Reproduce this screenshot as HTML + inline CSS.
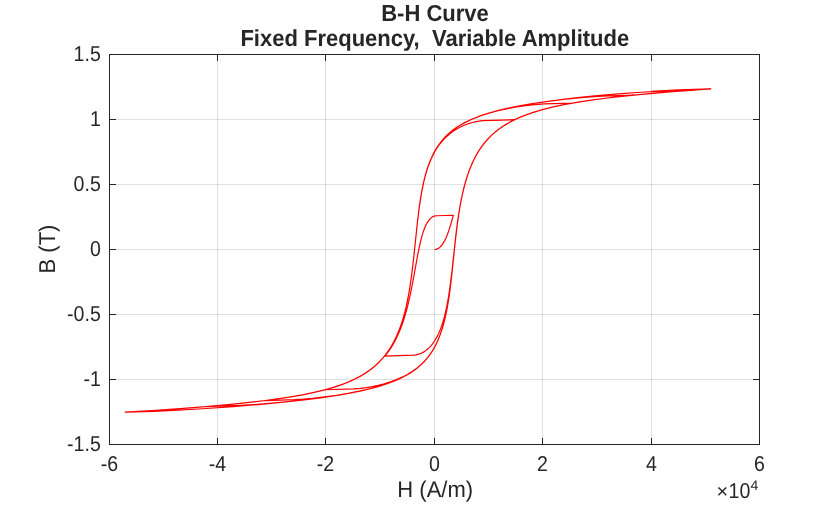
<!DOCTYPE html>
<html><head><meta charset="utf-8"><style>
html,body{margin:0;padding:0;background:#fff;width:840px;height:505px;overflow:hidden}
svg{display:block;will-change:transform}
text{font-family:"Liberation Sans",sans-serif;fill:#262626;text-rendering:geometricPrecision}
</style></head><body>
<svg width="840" height="505" viewBox="0 0 840 505">
<rect width="840" height="505" fill="#fff"/>
<g stroke="#262626" stroke-opacity="0.15" stroke-width="1" shape-rendering="crispEdges"><line x1="217.5" y1="54.5" x2="217.5" y2="444.5"/><line x1="325.5" y1="54.5" x2="325.5" y2="444.5"/><line x1="434.5" y1="54.5" x2="434.5" y2="444.5"/><line x1="542.5" y1="54.5" x2="542.5" y2="444.5"/><line x1="651.5" y1="54.5" x2="651.5" y2="444.5"/><line x1="109.5" y1="379.5" x2="759.5" y2="379.5"/><line x1="109.5" y1="314.5" x2="759.5" y2="314.5"/><line x1="109.5" y1="249.5" x2="759.5" y2="249.5"/><line x1="109.5" y1="184.5" x2="759.5" y2="184.5"/><line x1="109.5" y1="119.5" x2="759.5" y2="119.5"/></g>
<path d="M434.50,249.50 435.85,249.34 437.21,248.92 438.45,248.29 439.70,247.40 440.89,246.28 442.08,244.87 444.30,241.41 446.42,236.99 448.53,231.42 450.70,224.58 453.30,215.26 436.40,215.77 435.10,215.94 433.85,216.31 432.71,216.84 431.57,217.57 429.46,219.56 427.46,222.33 425.62,225.80 424.15,229.31 422.75,233.41 421.39,238.11 420.09,243.36 417.71,254.83 412.83,281.85 410.40,294.23 407.47,306.89 404.38,317.84 402.43,323.72 400.38,329.21 398.21,334.33 395.88,339.21 393.39,343.83 390.79,348.10 387.97,352.21 384.99,356.06 413.27,355.20 416.08,354.86 418.85,354.17 421.18,353.28 423.40,352.15 425.56,350.75 427.68,349.08 429.68,347.18 431.57,345.06 433.42,342.66 435.15,340.04 436.94,336.92 438.67,333.40 440.24,329.73 441.76,325.63 443.17,321.26 444.52,316.42 446.90,305.94 448.75,295.56 450.48,283.41 452.00,270.71 456.11,232.94 457.63,221.13 459.15,211.02 461.15,199.87 463.37,189.77 465.86,180.50 468.62,172.07 470.41,167.39 472.36,162.84 474.37,158.67 476.53,154.63 478.81,150.84 481.25,147.19 483.85,143.71 486.55,140.46 489.43,137.37 492.46,134.43 495.65,131.66 499.07,128.99 502.64,126.48 506.43,124.09 510.44,121.82 514.67,119.67 482.76,120.71 479.35,121.10 475.94,121.69 472.58,122.46 469.22,123.43 464.94,124.98 460.82,126.81 456.87,128.93 453.08,131.35 449.50,134.04 446.20,136.94 443.11,140.10 440.24,143.51 437.53,147.25 435.04,151.26 432.71,155.61 430.60,160.21 428.65,165.16 426.81,170.61 425.13,176.43 423.61,182.58 421.23,194.55 419.06,208.81 417.22,224.10 413.97,255.35 412.51,268.30 410.72,281.82 408.82,293.60 406.22,306.47 404.82,312.27 403.30,317.79 401.68,323.04 399.94,328.01 398.10,332.71 396.10,337.26 393.55,342.35 390.84,347.08 387.92,351.54 384.77,355.74 381.42,359.67 377.84,363.33 374.00,366.79 369.88,370.04 365.49,373.08 360.83,375.91 355.85,378.58 350.49,381.10 344.75,383.47 338.62,385.69 332.07,387.79 325.08,389.77 353.52,388.91 360.51,388.42 366.36,387.69 372.32,386.68 378.27,385.39 384.18,383.85 390.52,381.86 396.48,379.64 402.11,377.16 407.31,374.47 412.07,371.58 416.52,368.43 420.58,365.04 424.32,361.38 427.62,357.60 430.71,353.45 433.52,349.00 436.07,344.28 438.40,339.19 440.57,333.61 442.57,327.49 444.36,321.00 445.82,314.76 447.17,308.02 448.42,300.80 449.61,292.80 451.62,276.55 455.14,242.74 456.82,228.11 458.82,213.61 461.04,200.77 462.50,193.74 464.13,186.96 465.86,180.67 467.76,174.67 469.76,169.13 471.93,163.89 474.26,158.95 476.80,154.21 480.00,149.04 483.47,144.23 487.20,139.75 491.21,135.62 495.55,131.76 500.26,128.13 505.30,124.79 510.71,121.68 516.56,118.78 522.85,116.08 529.62,113.57 536.93,111.21 544.84,108.99 553.40,106.90 562.60,104.93 572.62,103.06 544.13,103.94 538.34,104.28 532.33,104.82 523.77,105.86 514.99,107.23 506.33,108.88 497.93,110.78 489.91,112.91 482.44,115.23 475.56,117.74 469.22,120.44 463.43,123.34 458.17,126.43 453.35,129.77 448.91,133.40 444.95,137.23 441.38,141.32 438.07,145.80 435.10,150.60 432.39,155.78 429.90,161.47 427.68,167.54 425.62,174.29 423.94,180.85 422.42,187.86 421.01,195.53 419.71,203.87 417.55,220.98 413.70,257.76 411.91,273.03 409.64,288.80 408.39,295.95 407.09,302.51 405.36,310.10 403.46,317.22 401.40,323.85 399.18,330.01 396.75,335.84 394.15,341.22 391.33,346.27 388.30,350.99 384.45,356.14 380.23,360.94 375.68,365.34 370.75,369.39 365.38,373.15 359.59,376.61 353.25,379.84 346.43,382.81 339.00,385.56 330.93,388.13 322.16,390.53 312.62,392.77 302.23,394.87 290.85,396.87 278.45,398.77 264.96,400.58 294.70,399.64 303.25,399.11 312.46,398.30 324.43,396.94 336.51,395.26 348.16,393.33 359.10,391.20 368.74,389.01 377.57,386.67 385.64,384.18 393.01,381.50 399.72,378.64 405.79,375.58 411.37,372.25 416.41,368.68 420.90,364.88 424.97,360.79 428.65,356.38 432.01,351.56 435.04,346.34 437.80,340.63 440.30,334.41 442.57,327.53 444.41,320.83 446.09,313.53 447.61,305.66 449.02,296.98 451.35,278.98 455.35,240.74 457.30,224.30 458.50,215.76 459.80,207.61 461.15,200.22 462.61,193.26 464.56,185.30 466.68,178.00 469.00,171.14 471.50,164.89 474.26,158.95 477.29,153.37 480.54,148.24 484.06,143.47 488.50,138.35 493.32,133.66 498.63,129.32 504.38,125.37 510.66,121.71 517.48,118.36 524.96,115.26 533.14,112.39 542.08,109.73 551.83,107.26 562.50,104.96 574.25,102.78 587.14,100.72 601.28,98.77 616.83,96.89 633.83,95.09 602.20,96.12 590.93,96.82 578.53,97.86 563.31,99.43 548.14,101.30 533.90,103.36 520.79,105.59 509.79,107.77 499.77,110.07 490.62,112.54 482.28,115.18 474.75,117.98 467.87,121.02 461.69,124.26 456.06,127.80 451.07,131.53 446.53,135.61 442.41,140.06 438.73,144.84 435.37,150.11 432.33,155.89 429.62,162.15 427.19,169.02 425.18,175.87 423.40,183.22 421.77,191.24 420.25,200.23 419.01,208.97 417.76,219.07 413.54,259.25 411.48,276.34 410.18,285.39 408.82,293.56 407.36,301.21 405.74,308.54 403.62,316.65 401.30,324.17 398.75,331.11 395.93,337.60 392.85,343.64 389.49,349.22 385.80,354.42 381.85,359.19 379.41,361.78 376.87,364.25 371.40,368.89 365.44,373.11 358.88,377.00 351.68,380.56 343.83,383.82 335.21,386.82 325.73,389.59 315.33,392.16 303.85,394.56 291.18,396.82 277.20,398.95 261.76,400.98 244.75,402.92 226.01,404.79 205.37,406.61 239.50,405.47 253.69,404.61 269.56,403.37 288.09,401.63 306.02,399.65 322.54,397.53 337.60,395.27 349.95,393.10 361.16,390.82 371.34,388.40 380.60,385.80 388.95,383.05 396.53,380.07 403.41,376.85 409.58,373.39 415.11,369.66 420.09,365.62 424.59,361.21 428.65,356.38 432.28,351.13 435.53,345.41 438.45,339.12 441.11,332.11 443.22,325.30 445.17,317.69 446.90,309.49 448.53,300.16 449.88,290.85 451.18,280.39 455.52,239.26 457.68,221.46 459.09,211.88 460.55,203.35 462.12,195.48 463.86,188.03 466.13,179.76 468.68,172.03 471.50,164.89 474.58,158.31 478.00,152.19 481.68,146.62 485.74,141.43 490.13,136.68 492.78,134.15 495.60,131.71 498.58,129.36 501.67,127.15 504.92,125.03 508.33,123.00 515.64,119.21 523.71,115.74 532.60,112.56 542.40,109.64 553.18,106.95 565.15,104.44 578.42,102.08 593.10,99.87 609.40,97.76 627.50,95.74 647.48,93.79 669.58,91.90 693.96,90.04 668.34,90.82 657.45,91.28 640.55,92.27 621.48,93.64 600.09,95.45 579.78,97.44 561.25,99.54 544.46,101.74 530.81,103.83 518.35,106.03 507.03,108.36 496.79,110.83 487.53,113.46 479.13,116.29 471.55,119.33 464.67,122.63 458.33,126.29 455.41,128.25 452.59,130.32 449.99,132.44 447.50,134.67 445.12,137.04 442.90,139.49 440.78,142.06 438.78,144.77 436.88,147.61 435.10,150.59 431.85,156.93 428.92,164.00 426.54,171.11 424.43,178.82 422.47,187.58 420.74,197.16 419.33,206.56 417.98,217.22 413.38,260.72 411.05,279.50 409.58,289.13 407.96,298.23 406.22,306.45 404.28,314.30 401.73,322.87 398.86,330.84 395.72,338.06 392.20,344.79 388.35,350.91 384.12,356.54 379.47,361.72 374.38,366.47 371.29,368.98 368.09,371.33 364.68,373.60 361.10,375.76 357.31,377.83 353.36,379.79 349.19,381.66 344.80,383.45 335.32,386.79 324.81,389.84 313.11,392.66 300.11,395.27 285.54,397.72 269.35,400.02 251.25,402.21 231.05,404.31 208.57,406.35 183.60,408.33 155.92,410.28 125.21,412.22 153.81,411.34 173.36,410.45 202.40,408.73 233.32,406.55 260.95,404.29 285.70,401.94 307.70,399.48 327.25,396.87 343.17,394.33 357.37,391.63 369.99,388.74 381.25,385.60 386.40,383.94 391.22,382.21 395.77,380.39 400.05,378.49 404.06,376.51 407.85,374.42 411.37,372.26 414.73,369.94 419.50,366.14 423.77,362.07 427.68,357.63 431.20,352.81 434.39,347.55 437.26,341.84 439.86,335.58 442.19,328.78 444.09,322.10 445.82,314.80 447.39,306.88 448.85,298.06 450.10,289.21 451.29,279.46 455.41,240.25 457.41,223.48 458.66,214.67 460.01,206.36 461.42,198.86 462.94,191.84 465.00,183.71 467.22,176.30 469.65,169.41 472.31,163.04 475.23,157.06 478.43,151.49 481.90,146.32 485.69,141.49 488.40,138.46 491.21,135.62 494.19,132.90 497.39,130.28 500.75,127.79 504.27,125.44 507.95,123.21 511.85,121.09 515.97,119.06 520.30,117.13 524.85,115.30 529.67,113.55 540.12,110.27 551.77,107.27 564.77,104.51 579.34,101.93 595.65,99.52 613.85,97.23 634.27,95.05 657.02,92.95 682.42,90.90 710.75,88.88 678.52,89.91 651.17,91.42" fill="none" stroke="#ff0000" stroke-width="1.2" stroke-linejoin="round"/>
<g stroke="#262626" stroke-width="1" shape-rendering="crispEdges"><line x1="217.5" y1="444.5" x2="217.5" y2="438.0"/><line x1="217.5" y1="54.5" x2="217.5" y2="61.0"/><line x1="325.5" y1="444.5" x2="325.5" y2="438.0"/><line x1="325.5" y1="54.5" x2="325.5" y2="61.0"/><line x1="434.5" y1="444.5" x2="434.5" y2="438.0"/><line x1="434.5" y1="54.5" x2="434.5" y2="61.0"/><line x1="542.5" y1="444.5" x2="542.5" y2="438.0"/><line x1="542.5" y1="54.5" x2="542.5" y2="61.0"/><line x1="651.5" y1="444.5" x2="651.5" y2="438.0"/><line x1="651.5" y1="54.5" x2="651.5" y2="61.0"/><line x1="109.5" y1="379.5" x2="116.0" y2="379.5"/><line x1="759.5" y1="379.5" x2="753.0" y2="379.5"/><line x1="109.5" y1="314.5" x2="116.0" y2="314.5"/><line x1="759.5" y1="314.5" x2="753.0" y2="314.5"/><line x1="109.5" y1="249.5" x2="116.0" y2="249.5"/><line x1="759.5" y1="249.5" x2="753.0" y2="249.5"/><line x1="109.5" y1="184.5" x2="116.0" y2="184.5"/><line x1="759.5" y1="184.5" x2="753.0" y2="184.5"/><line x1="109.5" y1="119.5" x2="116.0" y2="119.5"/><line x1="759.5" y1="119.5" x2="753.0" y2="119.5"/>
<rect x="109.5" y="54.5" width="650.0" height="390.0" fill="none"/></g>
<g font-size="21.5"><text transform="translate(109.5,471) scale(0.91,1)" text-anchor="middle">-6</text><text transform="translate(217.5,471) scale(0.91,1)" text-anchor="middle">-4</text><text transform="translate(325.5,471) scale(0.91,1)" text-anchor="middle">-2</text><text transform="translate(434.5,471) scale(0.91,1)" text-anchor="middle">0</text><text transform="translate(542.5,471) scale(0.91,1)" text-anchor="middle">2</text><text transform="translate(651.5,471) scale(0.91,1)" text-anchor="middle">4</text><text transform="translate(759.5,471) scale(0.91,1)" text-anchor="middle">6</text><text transform="translate(100.8,60.80) scale(0.91,1)" text-anchor="end">1.5</text><text transform="translate(100.8,125.80) scale(0.91,1)" text-anchor="end">1</text><text transform="translate(100.8,190.80) scale(0.91,1)" text-anchor="end">0.5</text><text transform="translate(100.8,255.80) scale(0.91,1)" text-anchor="end">0</text><text transform="translate(100.8,320.80) scale(0.91,1)" text-anchor="end">-0.5</text><text transform="translate(100.8,385.80) scale(0.91,1)" text-anchor="end">-1</text><text transform="translate(100.8,450.80) scale(0.91,1)" text-anchor="end">-1.5</text></g>
<text transform="translate(435,20.6) scale(1,1.05)" text-anchor="middle" font-size="22" font-weight="bold">B-H Curve</text>
<text transform="translate(434.8,45.6) scale(1,1.05)" text-anchor="middle" font-size="22" font-weight="bold" xml:space="preserve">Fixed Frequency,  Variable Amplitude</text>
<text transform="translate(435.2,496.8) scale(1,1.03)" text-anchor="middle" font-size="22">H (A/m)</text>
<text transform="translate(55.2,249) rotate(-90) scale(1,1.04)" text-anchor="middle" font-size="22">B (T)</text>
<text x="722.3" y="498.2" font-size="20" text-anchor="middle">&#215;</text>
<text transform="translate(750.3,497.5) scale(0.91,1)" font-size="21.5" text-anchor="end">10</text>
<text x="750.5" y="490" font-size="14">4</text>
</svg>
</body></html>
